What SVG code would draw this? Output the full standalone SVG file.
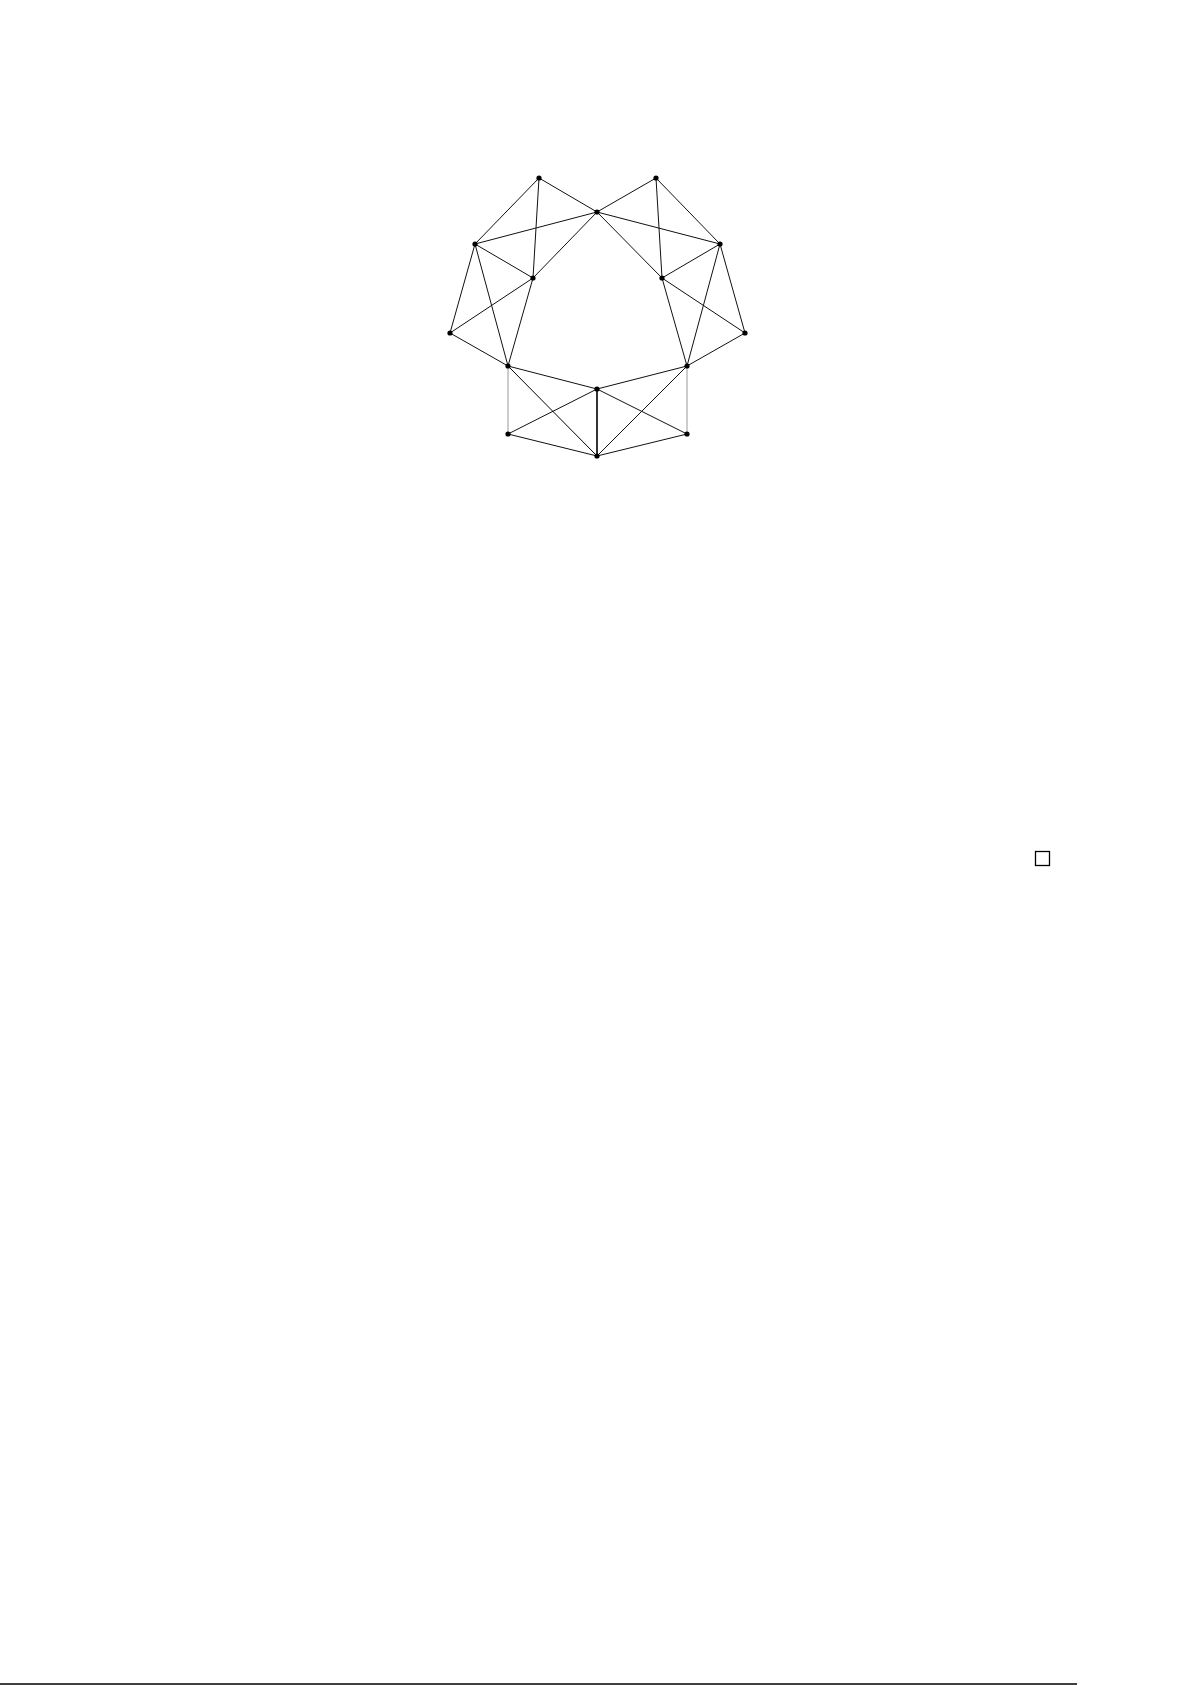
<svg xmlns="http://www.w3.org/2000/svg" width="1192" height="1685" viewBox="0 0 1192 1685">
<style>
.e{stroke:#111;stroke-width:1;fill:none}
.g{stroke:#999;stroke-width:1;fill:none}
.k{stroke:#000;stroke-width:1.6;fill:none}
.n{fill:#000}
</style>
<rect width="1192" height="1685" fill="#fff"/>
<g id="connectors">
<line class="e" x1="539" y1="178" x2="475" y2="244"/>
<line class="e" x1="539" y1="178" x2="597" y2="212"/>
<line class="e" x1="539" y1="178" x2="533" y2="278"/>
<line class="e" x1="656" y1="178" x2="597" y2="212"/>
<line class="e" x1="656" y1="178" x2="720" y2="244"/>
<line class="e" x1="656" y1="178" x2="662" y2="278"/>
<line class="e" x1="597" y1="212" x2="475" y2="244"/>
<line class="e" x1="597" y1="212" x2="720" y2="244"/>
<line class="e" x1="597" y1="212" x2="533" y2="278"/>
<line class="e" x1="597" y1="212" x2="662" y2="278"/>
<line class="e" x1="475" y1="244" x2="533" y2="278"/>
<line class="e" x1="475" y1="244" x2="450" y2="333"/>
<line class="e" x1="475" y1="244" x2="508" y2="366"/>
<line class="e" x1="533" y1="278" x2="450" y2="333"/>
<line class="e" x1="533" y1="278" x2="508" y2="366"/>
<line class="e" x1="450" y1="333" x2="508" y2="366"/>
<line class="e" x1="720" y1="244" x2="662" y2="278"/>
<line class="e" x1="720" y1="244" x2="745" y2="333"/>
<line class="e" x1="720" y1="244" x2="687" y2="366"/>
<line class="e" x1="662" y1="278" x2="745" y2="333"/>
<line class="e" x1="662" y1="278" x2="687" y2="366"/>
<line class="e" x1="745" y1="333" x2="687" y2="366"/>
<line class="e" x1="508" y1="366" x2="597" y2="389"/>
<line class="g" x1="508" y1="366" x2="508" y2="434"/>
<line class="e" x1="508" y1="366" x2="597" y2="456" style="stroke:#000"/>
<line class="e" x1="687" y1="366" x2="597" y2="389"/>
<line class="g" x1="687" y1="366" x2="687" y2="434"/>
<line class="e" x1="687" y1="366" x2="597" y2="456"/>
<line class="e" x1="597" y1="389" x2="508" y2="434"/>
<line class="k" x1="597" y1="389" x2="597" y2="456"/>
<line class="e" x1="597" y1="389" x2="687" y2="434"/>
<line class="e" x1="508" y1="434" x2="597" y2="456"/>
<line class="e" x1="687" y1="434" x2="597" y2="456"/>
</g>
<g id="n-t1"><circle class="n" cx="539" cy="178" r="2.6"/></g>
<g id="n-t2"><circle class="n" cx="656" cy="178" r="2.6"/></g>
<g id="n-c"><circle class="n" cx="597" cy="212" r="2.6"/></g>
<g id="n-l"><circle class="n" cx="475" cy="244" r="2.6"/></g>
<g id="n-r"><circle class="n" cx="720" cy="244" r="2.6"/></g>
<g id="n-il"><circle class="n" cx="533" cy="278" r="2.6"/></g>
<g id="n-ir"><circle class="n" cx="662" cy="278" r="2.6"/></g>
<g id="n-fl"><circle class="n" cx="450" cy="333" r="2.6"/></g>
<g id="n-fr"><circle class="n" cx="745" cy="333" r="2.6"/></g>
<g id="n-ll"><circle class="n" cx="508" cy="366" r="2.6"/></g>
<g id="n-lr"><circle class="n" cx="687" cy="366" r="2.6"/></g>
<g id="n-m"><circle class="n" cx="597" cy="389" r="2.6"/></g>
<g id="n-bl"><circle class="n" cx="508" cy="434" r="2.6"/></g>
<g id="n-br"><circle class="n" cx="687" cy="434" r="2.6"/></g>
<g id="n-b"><circle class="n" cx="597" cy="456" r="2.6"/></g>
<g id="qed"><rect x="1035.5" y="851.5" width="14" height="14" fill="none" stroke="#000" stroke-width="1.3"/></g>
<g id="footer-rule"><line x1="0" y1="1684" x2="1077" y2="1684" stroke="#000" stroke-width="1.5"/></g>
</svg>
